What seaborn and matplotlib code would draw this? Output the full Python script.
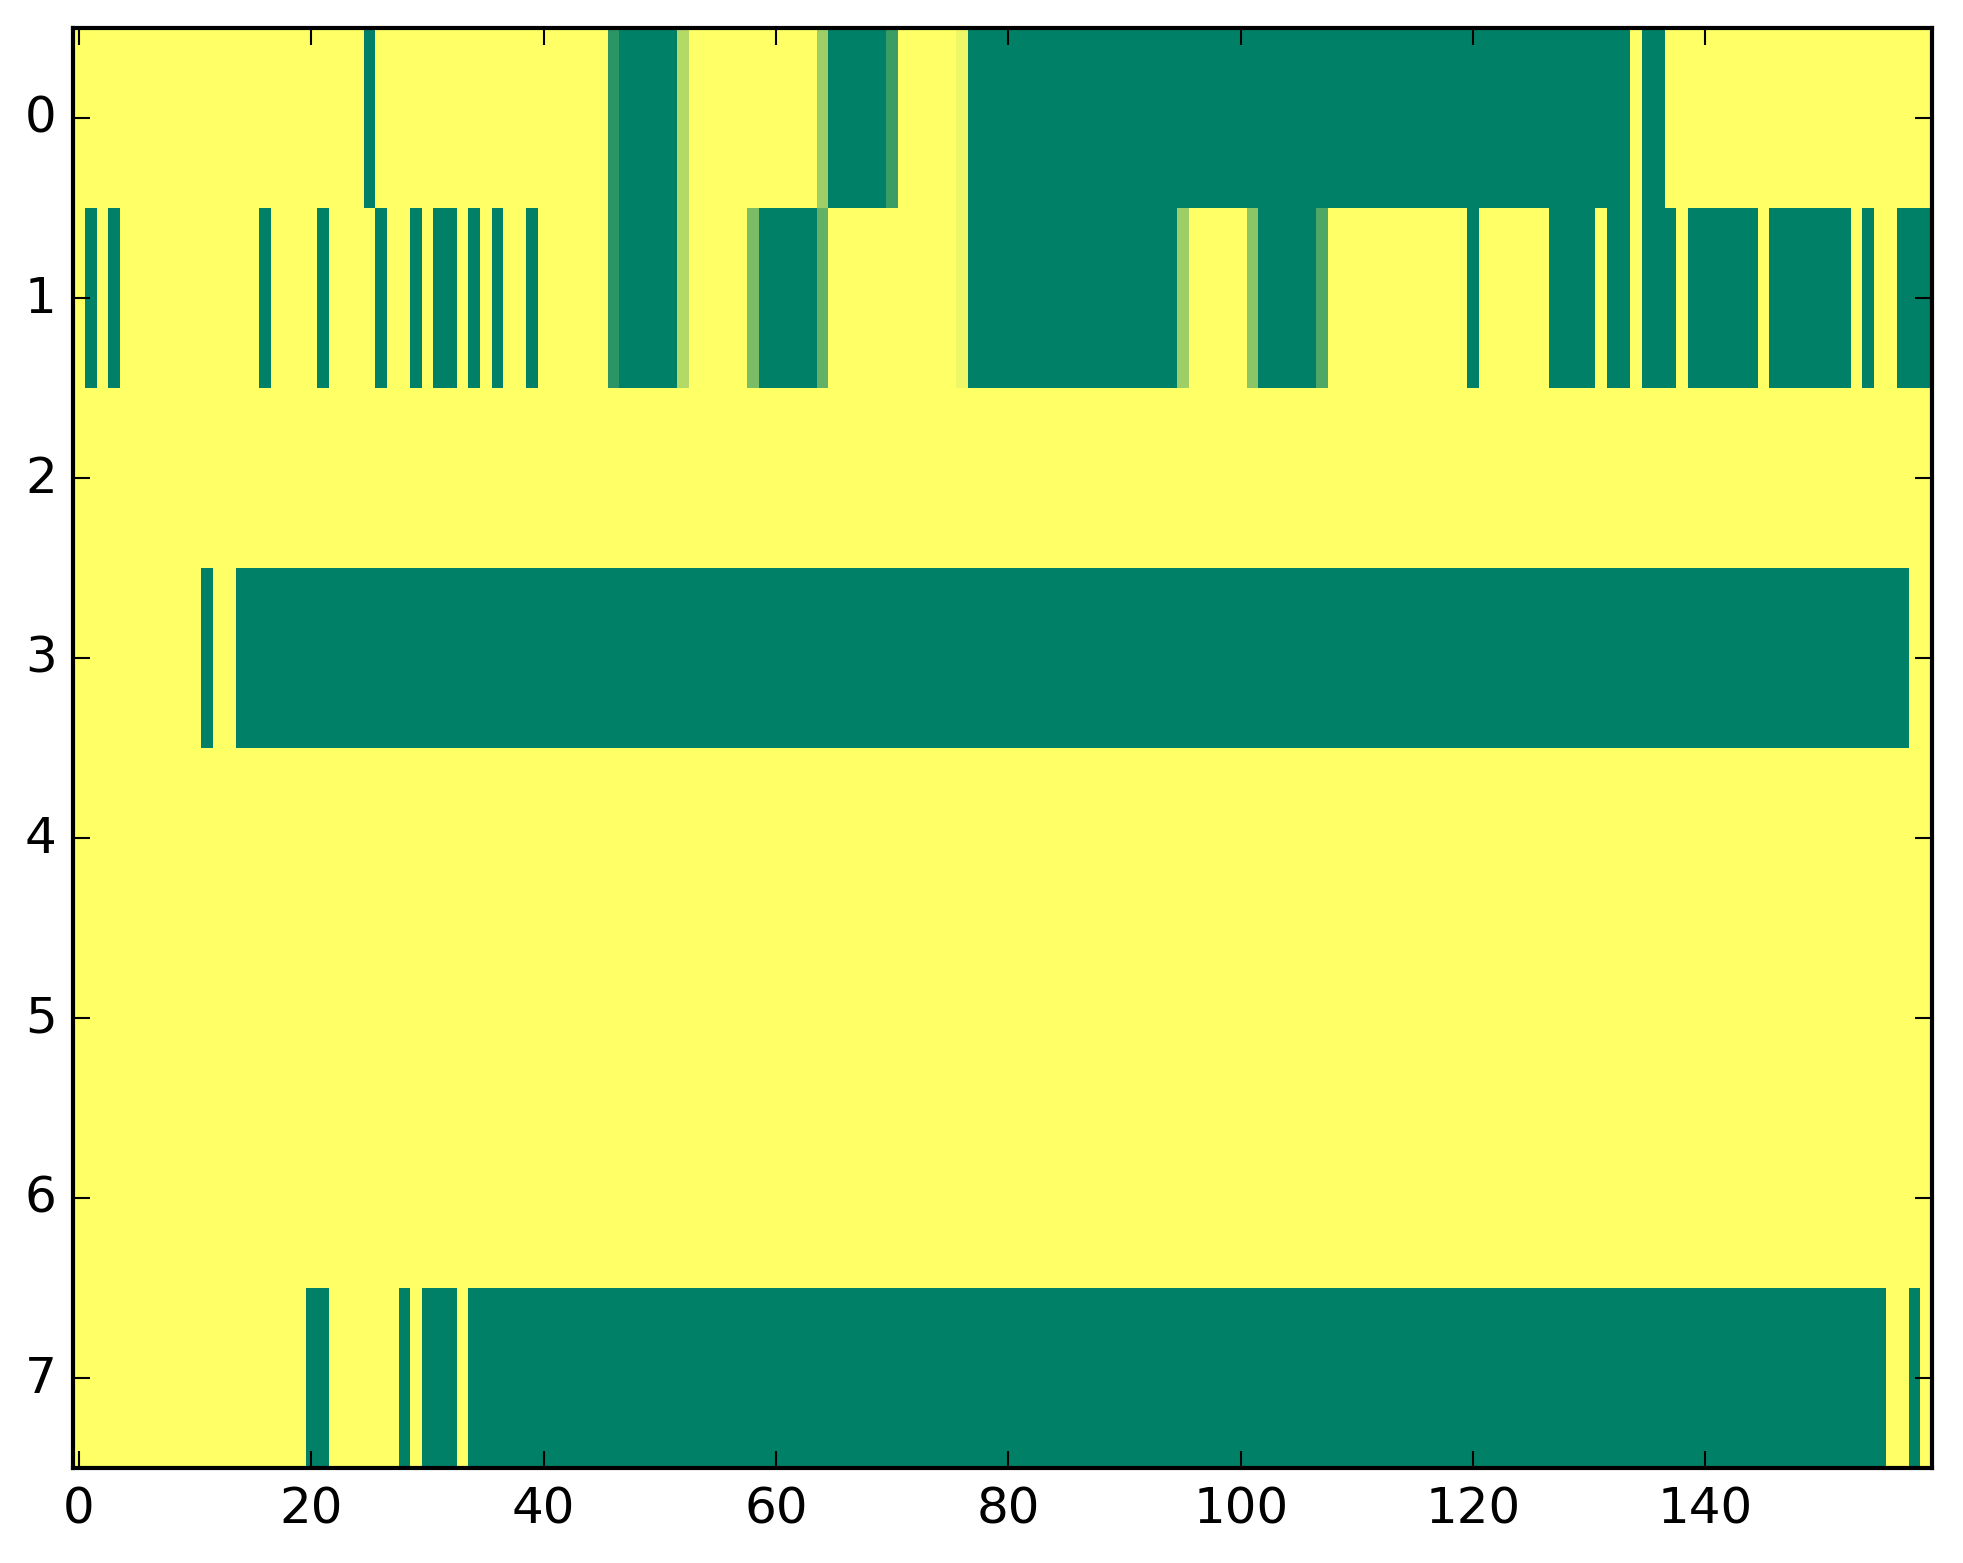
import numpy as np
import pandas as pd
import matplotlib
matplotlib.use("Agg")
import matplotlib.pyplot as plt
import seaborn as sns

# ---- data: runs of (first_col, last_col, value) per row; unlisted cells are 0 ----
n_cols = 160
row_labels = [0, 1, 2, 3, 4, 5, 6, 7]

row0_runs = [(25, 25, 1.0), (46, 46, 0.83), (47, 51, 1.0), (52, 52, 0.30),
             (64, 64, 0.38), (65, 69, 1.0), (70, 70, 0.77), (76, 76, 0.07),
             (77, 133, 1.0), (135, 136, 1.0)]
row1_runs = [(1, 1, 1.0), (3, 3, 1.0), (16, 16, 1.0), (21, 21, 1.0), (26, 26, 1.0),
             (29, 29, 1.0), (31, 32, 1.0), (34, 34, 1.0), (36, 36, 1.0), (39, 39, 1.0),
             (46, 46, 0.83), (47, 51, 1.0), (52, 52, 0.30),
             (58, 58, 0.52), (59, 63, 1.0), (64, 64, 0.61), (76, 76, 0.07),
             (77, 94, 1.0), (95, 95, 0.38), (101, 101, 0.46), (102, 106, 1.0),
             (107, 107, 0.69), (120, 120, 1.0), (127, 130, 1.0), (132, 133, 1.0),
             (135, 137, 1.0), (139, 144, 1.0), (146, 152, 1.0), (154, 154, 1.0),
             (157, 159, 1.0)]
row2_runs = []
row3_runs = [(11, 11, 1.0), (14, 157, 1.0)]
row4_runs = []
row5_runs = []
row6_runs = []
row7_runs = [(20, 21, 1.0), (28, 28, 1.0), (30, 32, 1.0), (34, 155, 1.0), (158, 158, 1.0)]

all_runs = [row0_runs, row1_runs, row2_runs, row3_runs,
            row4_runs, row5_runs, row6_runs, row7_runs]

x_tick_values = [0, 20, 40, 60, 80, 100, 120, 140]

# ---- build matrix ----
mat = np.zeros((len(row_labels), n_cols))
for r, runs in enumerate(all_runs):
    for a, b, v in runs:
        mat[r, a:b + 1] = v
df = pd.DataFrame(mat, index=row_labels, columns=range(n_cols))

# ---- style ----
sns.set_style("white")
plt.rcParams.update({
    "font.family": ["DejaVu Sans"],
    "font.size": 12,
    "axes.axisbelow": False,
    "xtick.direction": "in",
    "ytick.direction": "in",
    "xtick.top": True,
    "ytick.right": True,
    "xtick.major.size": 4,
    "ytick.major.size": 4,
    "xtick.major.width": 0.5,
    "ytick.major.width": 0.5,
    "xtick.major.pad": 4,
    "ytick.major.pad": 4,
    "xtick.labelsize": 12,
    "ytick.labelsize": 12,
    "xtick.color": "black",
    "ytick.color": "black",
    "axes.linewidth": 1.0,
    "axes.edgecolor": "black",
})

fig = plt.figure(figsize=(1963 / 300, 1564 / 300), dpi=300)
ax = fig.add_axes([73.3 / 1963, 1 - 1469 / 1564, (1932 - 73.3) / 1963, (1469 - 28.5) / 1564])

sns.heatmap(df, ax=ax, cmap="summer_r", vmin=0, vmax=1, cbar=False,
            xticklabels=False, yticklabels=False)

ax.set_axisbelow(False)
for s in ax.spines.values():
    s.set_visible(True)
    s.set_color("black")
    s.set_linewidth(1.0)
    s.set_zorder(5)

ax.set_xticks(np.array(x_tick_values) + 0.5)
ax.set_xticklabels([str(v) for v in x_tick_values], rotation=0)
ax.set_yticks(np.arange(len(row_labels)) + 0.5)
ax.set_yticklabels([str(v) for v in row_labels], rotation=0, va="center")
ax.tick_params(axis="both", which="major", direction="in", length=4, width=0.5,
               color="black", top=True, right=True, bottom=True, left=True,
               labeltop=False, labelright=False, labelsize=12, pad=4)
ax.set_xlabel("")
ax.set_ylabel("")
ax.set_xlim(0, n_cols)
ax.set_ylim(len(row_labels), 0)

fig.savefig("out.png", dpi=300, facecolor="white")
